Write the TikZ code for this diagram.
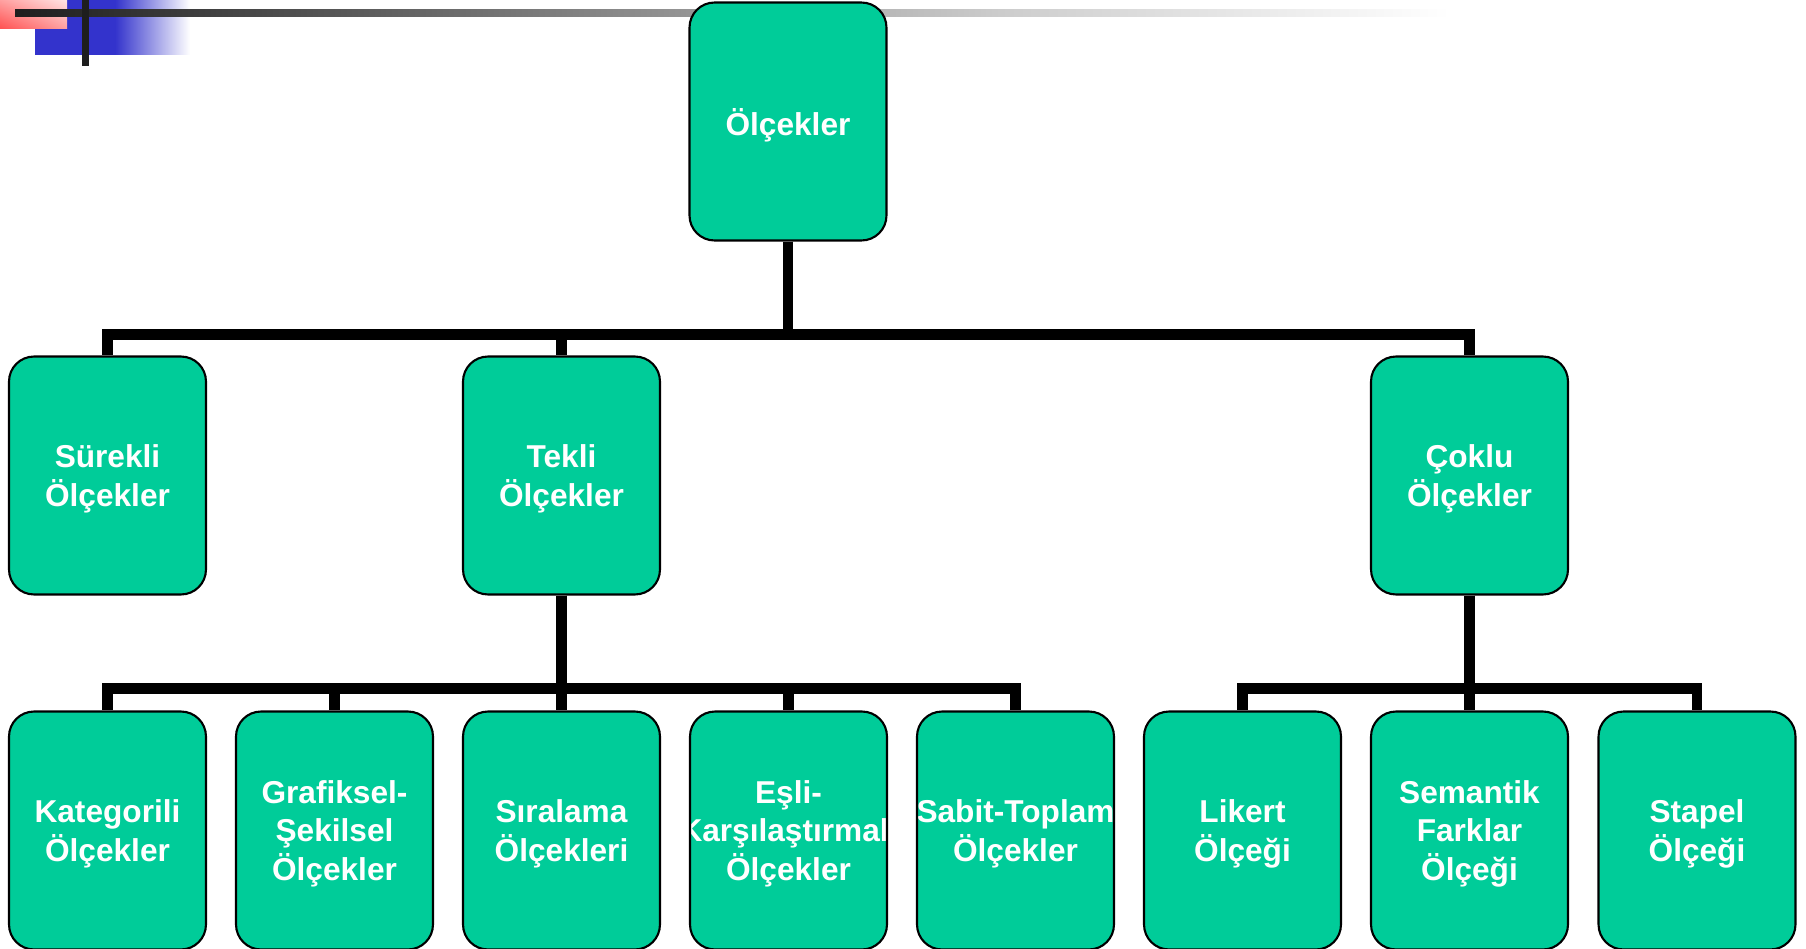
\documentclass[tikz,border=0pt]{standalone}
\usepackage{fontspec}
\setmainfont{Liberation Sans}
\usetikzlibrary{shadings}

\definecolor{boxgreen}{RGB}{0,204,153}
\definecolor{decored}{RGB}{255,80,80}
\definecolor{decomid}{RGB}{255,160,160}
\definecolor{decopale}{RGB}{255,228,228}
\definecolor{decoblue}{RGB}{51,51,204}
\definecolor{decodark}{RGB}{30,30,30}
\definecolor{decogray}{RGB}{204,204,204}

\tikzset{
  boxtext/.style={draw=none, fill=none, path picture={}, inner sep=0pt,
    align=center, text=white, text depth=-0.6pt,
    font=\fontsize{18}{22}\selectfont\bfseries},
  scalebox/.style={boxtext, draw=black, line width=1.2pt, fill=boxgreen,
    rounded corners=0.5cm, minimum width=3.94cm, minimum height=4.76cm},
  % text wider than the box, cut off at its edge
  cuttext/.style={path picture={\node[boxtext] at (path picture bounding box.center) {#1};}},
  conn/.style={line width=0.21cm, black}
}

\begin{document}
\begin{tikzpicture}[x=0.02cm, y=-0.02cm]
  \useasboundingbox (0,0) rectangle (1806,949);

  % corner decoration
  \fill[decoblue] (35,0) rectangle (115,55);
  \shade[left color=decoblue, right color=white] (115,0) rectangle (190,55);
  \shade[lower left=decored, upper right=decopale,
         upper left=decomid, lower right=decomid] (0,0) rectangle (67,29);
  \shade[left color=decodark, right color=decogray] (15,10) rectangle (1000,17);
  \shade[left color=decogray, right color=white] (1000,10) rectangle (1450,17);
  \fill[decodark] (82,0) rectangle (89,66);

  % levels (y of the bars)
  \def\dropone{93}  % root -> second row
  \def\droptwo{93}  % second row -> third row

  % root
  \node[scalebox] (root) at (788,121.5) {Ölçekler};

  % second row
  \node[scalebox] (surekli) at (107.5,475.5) {Sürekli\\Ölçekler};
  \node[scalebox] (tekli)   at (561.5,475.5) {Tekli\\Ölçekler};
  \node[scalebox] (coklu)   at (1469.5,475.5) {Çoklu\\Ölçekler};

  % third row
  \node[scalebox] (kategorili) at (107.5,830.5) {Kategorili\\Ölçekler};
  \node[scalebox] (grafiksel)  at (334.5,830.5) {Grafiksel-\\Şekilsel\\Ölçekler};
  \node[scalebox] (siralama)   at (561.5,830.5) {Sıralama\\Ölçekleri};
  \node[scalebox, cuttext={Eşli-\\Karşılaştırmalı\\Ölçekler}] (esli) at (788.5,830.5) {};
  \node[scalebox, cuttext={Sabit-Toplam\\Ölçekler}] (sabit) at (1015.5,830.5) {};
  \node[scalebox] (likert)     at (1242.5,830.5) {Likert\\Ölçeği};
  \node[scalebox] (semantik)   at (1469.5,830.5) {Semantik\\Farklar\\Ölçeği};
  \node[scalebox] (stapel)     at (1697,830.5) {Stapel\\Ölçeği};

  % connectors
  \draw[conn] (root.south) -- ++(0,\dropone) -| (surekli.north);
  \draw[conn] (root.south) -- ++(0,\dropone) -| (tekli.north);
  \draw[conn] (root.south) -- ++(0,\dropone) -| (coklu.north);

  \draw[conn] (tekli.south) -- ++(0,\droptwo) -| (kategorili.north);
  \draw[conn] (tekli.south) -- ++(0,\droptwo) -| (grafiksel.north);
  \draw[conn] (tekli.south) -- ++(0,\droptwo) -| (siralama.north);
  \draw[conn] (tekli.south) -- ++(0,\droptwo) -| (esli.north);
  \draw[conn] (tekli.south) -- ++(0,\droptwo) -| (sabit.north);

  \draw[conn] (coklu.south) -- ++(0,\droptwo) -| (likert.north);
  \draw[conn] (coklu.south) -- ++(0,\droptwo) -| (semantik.north);
  \draw[conn] (coklu.south) -- ++(0,\droptwo) -| (stapel.north);
\end{tikzpicture}
\end{document}
